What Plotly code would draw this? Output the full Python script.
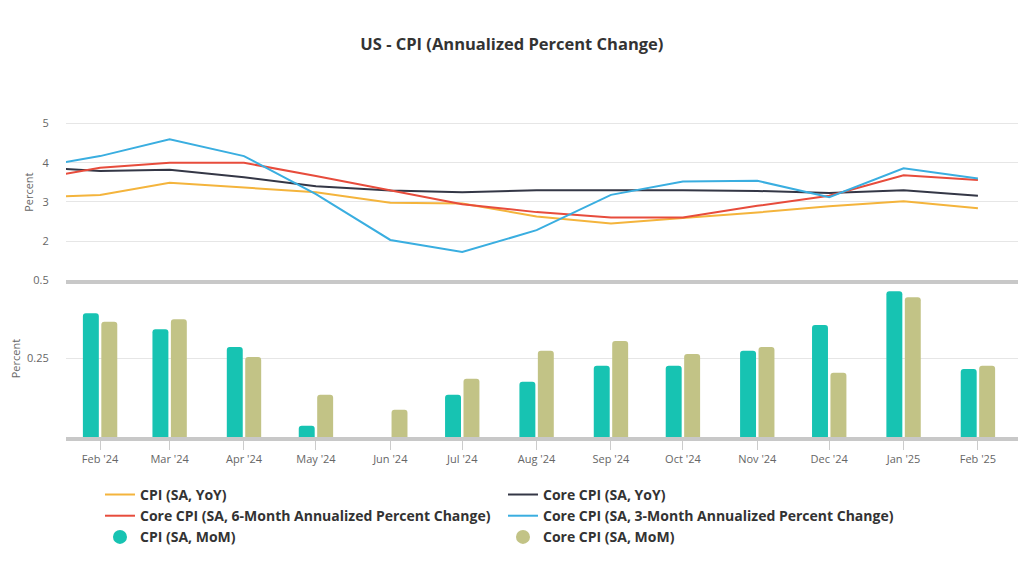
import plotly.graph_objects as go

# ---- data ----
line_dates = ["2024-01-01", "2024-02-01", "2024-03-01", "2024-04-01", "2024-05-01", "2024-06-01",
              "2024-07-01", "2024-08-01", "2024-09-01", "2024-10-01", "2024-11-01", "2024-12-01",
              "2025-01-01", "2025-02-01"]
cpi_yoy = [3.11, 3.18, 3.49, 3.36, 3.25, 2.98, 2.96, 2.63, 2.45, 2.59, 2.73, 2.89, 3.02, 2.84]
core_yoy = [3.90, 3.79, 3.82, 3.63, 3.40, 3.29, 3.25, 3.30, 3.30, 3.30, 3.28, 3.23, 3.30, 3.16]
core_6m = [3.54, 3.87, 4.00, 4.00, 3.66, 3.30, 2.94, 2.74, 2.60, 2.60, 2.90, 3.16, 3.68, 3.56]
core_3m = [3.84, 4.17, 4.60, 4.17, 3.20, 2.03, 1.72, 2.28, 3.18, 3.52, 3.54, 3.12, 3.86, 3.60]

bar_dates = line_dates[1:]
cpi_mom = [0.395, 0.344, 0.287, 0.036, -0.06, 0.135, 0.176, 0.227, 0.227, 0.275, 0.357, 0.465, 0.217]
core_mom = [0.368, 0.376, 0.255, 0.135, 0.087, 0.186, 0.275, 0.306, 0.265, 0.287, 0.205, 0.446, 0.227]

names = ["CPI (SA, YoY)", "Core CPI (SA, YoY)",
         "Core CPI (SA, 6-Month Annualized Percent Change)",
         "Core CPI (SA, 3-Month Annualized Percent Change)",
         "CPI (SA, MoM)", "Core CPI (SA, MoM)"]
colors = ["#f4b43c", "#343746", "#e74c3c", "#3aaee0", "#17c3b2", "#c2c386"]

title_text = "US - CPI (Annualized Percent Change)"
FONT = "Open Sans"

fig = go.Figure()

for vals, name, col in zip([cpi_yoy, core_yoy, core_6m, core_3m], names[:4], colors[:4]):
    fig.add_trace(go.Scatter(x=line_dates, y=vals, mode="lines", name="<b>%s</b>" % name,
                             line=dict(color=col, width=2), xaxis="x", yaxis="y",
                             legendgroup=name))

for vals, name, col in zip([cpi_mom, core_mom], names[4:], colors[4:]):
    fig.add_trace(go.Bar(x=bar_dates, y=vals, name=name, marker=dict(color=col, line=dict(width=0)),
                         xaxis="x2", yaxis="y2", showlegend=False, legendgroup=name))

for name, col in zip(names[4:], colors[4:]):
    fig.add_trace(go.Scatter(x=[None], y=[None], mode="markers", name="<b>%s</b>" % name,
                             marker=dict(color=col, size=14, symbol="circle"),
                             xaxis="x2", yaxis="y2", legendgroup=name))

xr = ["2024-01-17 19:00", "2025-02-17 17:00"]
split = 0.4706

fig.update_layout(
    width=1022, height=566,
    paper_bgcolor="white", plot_bgcolor="white",
    margin=dict(l=58, r=12, t=96, b=137),
    font=dict(family=FONT, color="#666666", size=11),
    title=dict(text="<b>%s</b>" % title_text, x=0.493, xanchor="center", y=0.936, yanchor="middle",
               font=dict(family=FONT, size=16.5, color="#333333")),
    barmode="group", bargap=0.47, bargroupgap=0.135, barcornerradius=3,
    showlegend=True,
    legend=dict(orientation="h", xref="container", yref="container", x=0.090, xanchor="left",
                y=0.168, yanchor="top", entrywidth=358, entrywidthmode="pixels",
                font=dict(family=FONT, size=14, color="#333333"), itemclick=False,
                tracegroupgap=0, traceorder="normal"),
    xaxis=dict(domain=[0, 1], anchor="y", type="date", range=xr, matches="x2",
               showticklabels=False, showgrid=False, showline=True, linecolor="#c8c8c8",
               linewidth=4, ticks="", zeroline=False, automargin=False),
    xaxis2=dict(domain=[0, 1], anchor="y2", type="date", range=xr,
                tickformat="%b '%y", dtick="M1", tick0="2024-02-01",
                showgrid=False, showline=True, linecolor="#c8c8c8", linewidth=4,
                ticks="outside", ticklen=9, tickcolor="#cccccc", tickwidth=1,
                tickfont=dict(size=11, color="#666666"), zeroline=False, automargin=False),
    yaxis=dict(domain=[split, 1], anchor="x", range=[1, 5.5], tickvals=[2, 3, 4, 5],
               showgrid=True, gridcolor="#e6e6e6", gridwidth=1, zeroline=False,
               showline=False, ticks="outside", ticklen=14, tickcolor="rgba(0,0,0,0)",
               tickfont=dict(size=11, color="#666666"), automargin=False,
               title=dict(text="Percent", standoff=6, font=dict(size=11, color="#666666"))),
    yaxis2=dict(domain=[0, split], anchor="x2", range=[0, 0.5], tickvals=[0.25, 0.5],
                ticktext=["0.25", "0.5"],
                showgrid=True, gridcolor="#e6e6e6", gridwidth=1, zeroline=False,
                showline=False, ticks="outside", ticklen=14, tickcolor="rgba(0,0,0,0)",
                tickfont=dict(size=11, color="#666666"), automargin=False,
                title=dict(text="Percent", standoff=6, font=dict(size=11, color="#666666"))),
)

fig.write_html("out.html")
